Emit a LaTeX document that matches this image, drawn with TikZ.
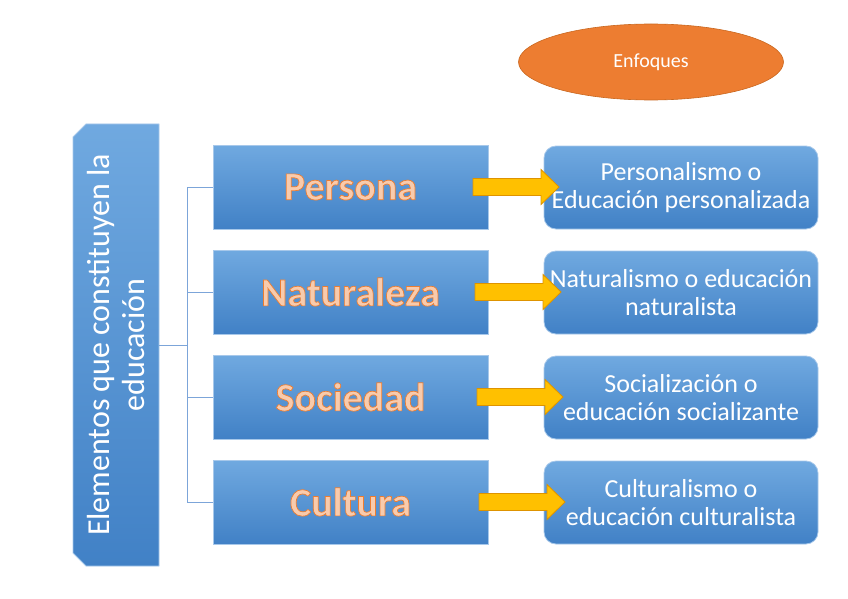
\documentclass[tikz,border=0pt]{standalone}
\usepackage{fontspec}
\setmainfont{Carlito}
\usepackage{tikz}
\usetikzlibrary{
  positioning,
  shapes.geometric,
  backgrounds,
}

\definecolor{boxtop}{HTML}{70A9E0}
\definecolor{boxbot}{HTML}{4181C6}
\definecolor{boxline}{HTML}{A7C8EA}
\definecolor{linkblue}{HTML}{5B8FCF}
\definecolor{enfoque}{HTML}{ED7D31}
\definecolor{enfline}{HTML}{C9671F}
\definecolor{arrfill}{HTML}{FFC000}
\definecolor{arrline}{HTML}{DE9300}
\definecolor{labfill}{HTML}{F8CBAD}

% orange outline round the big labels
\newcommand\outlined[1]{\special{pdf:literal direct 0.93 0.49 0.19 RG 0.7 w 2 Tr}#1\special{pdf:literal direct 0 Tr}}

\begin{document}
\begin{tikzpicture}[
  x=1pt, y=-1pt,
  every node/.style={align=center},
  link/.style={draw=linkblue!80, line width=0.8pt},
  midbox/.style={rectangle, draw=boxline, line width=0.8pt,
    top color=boxtop, bottom color=boxbot,
    minimum width=275pt, minimum height=84pt, inner sep=0pt,
    text=labfill, font={\fontsize{40}{43}\selectfont\bfseries}},
  enfbox/.style={rectangle, rounded corners=12pt, draw=boxline, line width=0.8pt,
    top color=boxtop, bottom color=boxbot,
    minimum width=274pt, minimum height=83pt, inner sep=0pt,
    text=white, font={\fontsize{26}{28}\selectfont}},
  fatarrow/.style={draw=arrline, fill=arrfill, line width=0.8pt, line join=miter},
]

\useasboundingbox (0,0) rectangle (848,599);

% left box
\node[rotate=90, minimum width=442pt, minimum height=86pt, inner sep=0pt,
  text=white, font={\fontsize{32}{35}\selectfont}] (elem) at (116,345)
  {Elementos que constituyen la\\educación};
\begin{scope}[on background layer]
\shade[top color=boxtop, bottom color=boxbot, draw=boxline, line width=0.8pt]
  (86,124) -- (159,124) -- (159,566) -- (86,566) -- (73,553) -- (73,137) -- cycle;
\end{scope}

% ellipse on top
\node[ellipse, fill=enfoque, draw=enfline, line width=0.6pt,
  minimum width=265pt, minimum height=76pt, text=white,
  font={\fontsize{20}{22}\selectfont}] (enfoques) at (651,62) {Enfoques};

\coordinate (trunk) at (187,345);
\draw[link] (elem.south) -- (trunk);

\foreach \i/\y/\lab/\txt in {
  1/187/Persona/{Personalismo o\\Educación personalizada},
  2/292/Naturaleza/{Naturalismo o educación\\naturalista},
  3/397/Sociedad/{Socialización o\\educación socializante},
  4/502/Cultura/{Culturalismo o\\educación culturalista}}{
  \node[midbox] (mid\i) at (350.5,\y) {\outlined{\lab}};
  \node[enfbox] (enf\i) at (681,\y+0.5) {\txt};
  \draw[link] (trunk) |- (mid\i.west);
  % yellow block arrow
  \draw[fatarrow] (471+2*\i,\y-8.5) -- (539+2*\i,\y-8.5) -- (539+2*\i,\y-17.5)
    -- (557+2*\i,\y) -- (539+2*\i,\y+17.5) -- (539+2*\i,\y+8.5)
    -- (471+2*\i,\y+8.5) -- cycle;
}

\end{tikzpicture}
\end{document}
